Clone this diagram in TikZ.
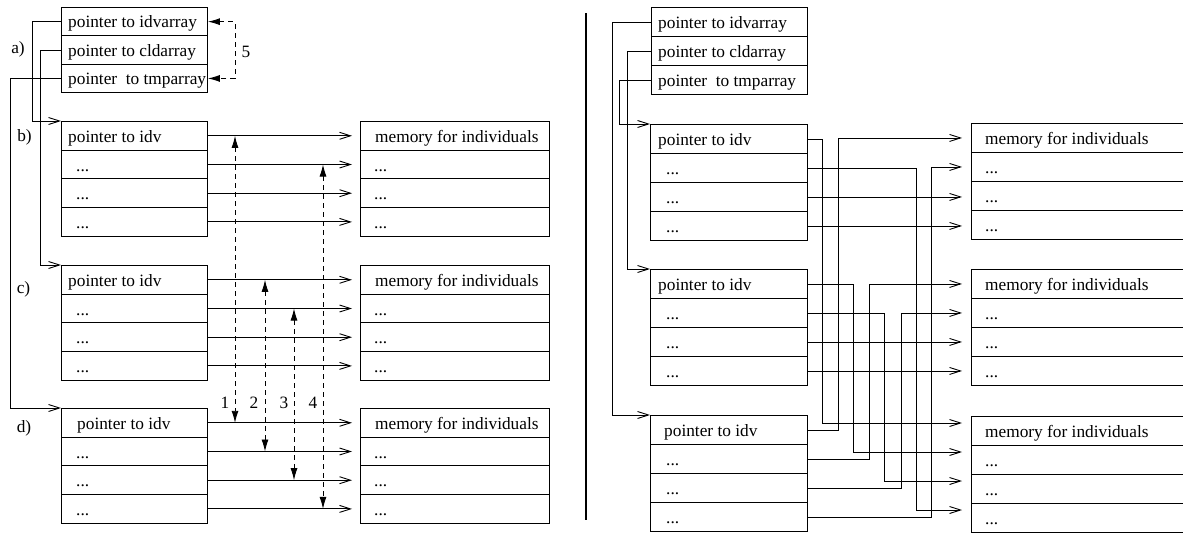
\documentclass[tikz,border=0pt]{standalone}
\usepackage{fontspec}
\setmainfont{Liberation Serif}
\usetikzlibrary{arrows.meta,calc}
\begin{document}
\begin{tikzpicture}[x=1pt,y=-1pt,
  every node/.style={font=\fontsize{17.3}{20}\selectfont},
  cell/.style={draw,line width=0.9pt,rectangle,inner sep=0pt,anchor=north west},
  cA/.style={cell,minimum width=146pt,minimum height=28.4pt},
  cL/.style={cell,minimum width=146pt,minimum height=28.7pt},
  cLM/.style={cell,minimum width=189pt,minimum height=28.7pt},
  cRA/.style={cell,minimum width=156pt,minimum height=29pt},
  cR/.style={cell,minimum width=157pt,minimum height=29pt},
  cRM/.style={cell,minimum width=219pt,minimum height=29pt},
  txt/.style={anchor=base west,inner sep=0pt},
  lbl/.style={anchor=center,inner sep=0pt},
  arr/.style={line width=0.9pt,-{Straight Barb[length=11pt,width=7pt,line width=0.9pt]}},
  darr/.style={line width=0.9pt,dash pattern=on 5pt off 4pt,{Latex[length=12pt,width=7pt]}-{Latex[length=12pt,width=7pt]}}
]
\useasboundingbox (0,0) rectangle (1183,533);
\clip (0,0) rectangle (1183,533);

% ---------- left panel: top box ----------
\foreach \i/\t in {1/{pointer to idvarray},2/{pointer to cldarray},3/{pointer\ \ to tmparray}}{
  \node[cA] (la\i) at (61,{7+(\i-1)*28.4}) {};
  \node[txt] (la\i t) at ([shift={(7,6.3)}]la\i.west) {\t};
}
% ---------- left panel: boxes b,c,d and memory ----------
\foreach \p/\y/\pa in {b/121/7,c/265/7,d/408/16}{
  \node[cL] (l\p1) at (61,\y) {};
  \node[txt] (l\p1t) at ([shift={(\pa,6.6)}]l\p1.west) {pointer to idv};
  \node[cLM] (lm\p1) at (360,\y) {};
  \node[txt] (lm\p1t) at ([shift={(15,6.6)}]lm\p1.west) {memory for individuals};
  \foreach \i in {2,3,4}{
    \node[cL] (l\p\i) at (61,{\y+(\i-1)*28.7}) {};
    \node[txt] (l\p\i t) at ([shift={(15,6.6)}]l\p\i.west) {...};
    \node[cLM] (lm\p\i) at (360,{\y+(\i-1)*28.7}) {};
    \node[txt] (lm\p\i t) at ([shift={(14,6.6)}]lm\p\i.west) {...};
  }
  \foreach \i in {1,...,4}{
    \draw[arr,shorten >=8pt] (l\p\i.east) -- (l\p\i.east -| lm\p\i.west);
  }
}
\node[lbl] (la) at (18,49) {a)};
\node[lbl] (lb) at (24.5,137) {b)};
\node[lbl] (lc) at (23.5,289) {c)};
\node[lbl] (ld) at (24,428) {d)};

% connectors from top box
\draw[arr] (la1.west) -- ++(-29,0) |- (lb1.north west);
\draw[arr] (la2.west) -- ++(-21,0) |- (lc1.north west);
\draw[arr] (la3.west) -- ++(-51,0) |- (ld1.north west);

% dashed swaps
\coordinate (s1) at (235,0);
\coordinate (s2) at (265,0);
\coordinate (s3) at (294,0);
\coordinate (s4) at (323,0);
\draw[darr] (lb1.east -| s1) -- (ld1.east -| s1);
\draw[darr] (lc1.east -| s2) -- (ld2.east -| s2);
\draw[darr] (lc2.east -| s3) -- (ld3.east -| s3);
\draw[darr] (lb2.east -| s4) -- (ld4.east -| s4);
\draw[darr] (la1.east) -- (la1.east -| s1) -- (la3.east -| s1) -- (la3.east);
\node[lbl] (n1) at (225,403) {1};
\node[lbl] (n2) at (254,403) {2};
\node[lbl] (n3) at (284,403) {3};
\node[lbl] (n4) at (313,403) {4};
\node[lbl] (n5) at (246,52) {5};

% separator
\coordinate (sepT) at (586,13);
\coordinate (sepB) at (586,520);
\draw[line width=1.3pt] (sepT) -- (sepB);

% ---------- right panel ----------
\foreach \i/\t in {1/{pointer to idvarray},2/{pointer to cldarray},3/{pointer\ \ to tmparray}}{
  \node[cRA] (ra\i) at (651,{7+(\i-1)*29}) {};
  \node[txt] (ra\i t) at ([shift={(7,6.6)}]ra\i.west) {\t};
}
\foreach \p/\y/\ym/\pa in {b/124/123/8,c/269/269/8,d/415/416/14}{
  \node[cR] (r\p1) at (650,\y) {};
  \node[txt] (r\p1t) at ([shift={(\pa,6.6)}]r\p1.west) {pointer to idv};
  \node[cRM] (rm\p1) at (971,\ym) {};
  \node[txt] (rm\p1t) at ([shift={(14,6.6)}]rm\p1.west) {memory for individuals};
  \foreach \i in {2,3,4}{
    \node[cR] (r\p\i) at (650,{\y+(\i-1)*29}) {};
    \node[txt] (r\p\i t) at ([shift={(16,6.6)}]r\p\i.west) {...};
    \node[cRM] (rm\p\i) at (971,{\ym+(\i-1)*29}) {};
    \node[txt] (rm\p\i t) at ([shift={(14,6.6)}]rm\p\i.west) {...};
  }
}
\foreach \i in {1,...,4}{
  \coordinate (tmb\i) at ([shift={(-9,0)}]rmb\i.west);
  \coordinate (tmc\i) at ([shift={(-9,0)}]rmc\i.west);
  \coordinate (tmd\i) at ([shift={(-9,7)}]rmd\i.north west);
}
% connectors from top box (rotated)
\draw[arr] (ra1.west) -- ++(-39,0) |- (rd1.north west);
\draw[arr] (ra2.west) -- ++(-24,0) |- (rc1.north west);
\draw[arr] (ra3.west) -- ++(-32,0) |- (rb1.north west);

\coordinate (v1) at (822,0);
\coordinate (v2) at (838,0);
\coordinate (v3) at (853,0);
\coordinate (v4) at (869,0);
\coordinate (v5) at (884,0);
\coordinate (v6) at (901,0);
\coordinate (v7) at (916,0);
\coordinate (v8) at (931,0);
\draw[arr] (rb1.east) -- (rb1.east -| v1) |- (tmd1);
\draw[arr] (rd1.east) -- (rd1.east -| v2) |- (tmb1);
\draw[arr] (rc1.east) -- (rc1.east -| v3) |- (tmd2);
\draw[arr] (rd2.east) -- (rd2.east -| v4) |- (tmc1);
\draw[arr] (rc2.east) -- (rc2.east -| v5) |- (tmd3);
\draw[arr] (rd3.east) -- (rd3.east -| v6) |- (tmc2);
\draw[arr] (rb2.east) -- (rb2.east -| v7) |- (tmd4);
\draw[arr] (rd4.east) -- (rd4.east -| v8) |- (tmb2);
\draw[arr] (rb3.east) -- (rb3.east -| tmb3);
\draw[arr] (rb4.east) -- (rb4.east -| tmb4);
\draw[arr] (rc3.east) -- (rc3.east -| tmc3);
\draw[arr] (rc4.east) -- (rc4.east -| tmc4);
\end{tikzpicture}
\end{document}
